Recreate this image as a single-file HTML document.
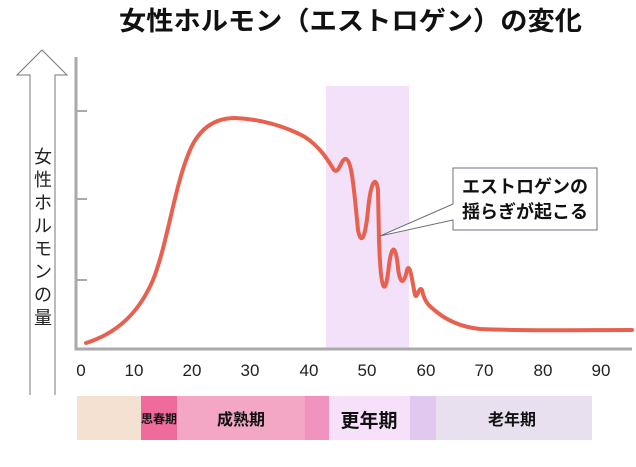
<!DOCTYPE html>
<html><head><meta charset="utf-8"><style>
html,body{margin:0;padding:0;background:#fff;}
svg text{font-family:"Liberation Sans","Noto Sans CJK JP",sans-serif;}
</style></head><body>
<svg width="636" height="462" viewBox="0 0 636 462" xmlns="http://www.w3.org/2000/svg">
<rect width="636" height="462" fill="#fff"/>
<text x="119" y="30" font-size="26" font-weight="bold" fill="#111" textLength="463" lengthAdjust="spacingAndGlyphs">女性ホルモン（エストロゲン）の変化</text>
<path d="M30,395 L30,75 L17,75 L42,50 L67,75 L55,75 L55,395" fill="#fff" stroke="#777" stroke-width="1"/>
<g font-size="18" fill="#222" text-anchor="middle">
<text x="43" y="163">女</text><text x="43" y="186">性</text><text x="43" y="209">ホ</text><text x="43" y="232">ル</text><text x="43" y="255">モ</text><text x="43" y="278">ン</text><text x="43" y="301">の</text><text x="43" y="324">量</text>
</g>
<rect x="326" y="86" width="83" height="262" fill="#f3e1fa"/>
<path d="M76,57 L76,349 L632,349" fill="none" stroke="#aaa" stroke-width="3"/>
<path d="M76,111 L87,111 M76,199 L87,199 M76,280 L87,280" stroke="#aaa" stroke-width="2"/>
<g font-size="17" fill="#222" text-anchor="middle">
<text x="81" y="376">0</text><text x="134" y="376">10</text><text x="192" y="376">20</text><text x="250" y="376">30</text><text x="309" y="376">40</text><text x="367" y="376">50</text><text x="426" y="376">60</text><text x="484" y="376">70</text><text x="543" y="376">80</text><text x="601" y="376">90</text>
</g>
<path d="M86,343 C115,334 138,315 153,280 C167,245 174,190 188,155 C198,128 215,118 235,118 C260,119 285,126 305,137 C320,147 328,160 334,170 C339,175 341,158 346,159 C352,161 354,190 358,230 C361,245 365,240 368,210 C371,180 376,175 378,190 L379,240 C381,300 386,295 389,265 C392,243 396,245 398,268 C400,285 404,285 407,270 C410,262 412,280 415,295 C417,300 419,285 422,290 C424,300 428,305 432,308 C445,320 460,327 480,329 C520,331 580,330 632,330" fill="none" stroke="#e8604e" stroke-width="4" stroke-linecap="round"/>
<path d="M453,168 L597,168 L597,230 L453,230 L453,220 L380,236 L453,204 Z" fill="#fff" stroke="#6a7080" stroke-width="1"/>
<g font-size="18" font-weight="bold" fill="#111" text-anchor="middle">
<text x="525" y="193">エストロゲンの</text>
<text x="525" y="218">揺らぎが起こる</text>
</g>
<rect x="77" y="396" width="64" height="44" fill="#f5e1d2"/>
<rect x="141" y="396" width="36" height="44" fill="#ef6b9b"/>
<rect x="177" y="396" width="128" height="44" fill="#f4a7c4"/>
<rect x="305" y="396" width="24" height="44" fill="#f093bf"/>
<rect x="329" y="396" width="81" height="44" fill="#f6e0fa"/>
<rect x="410" y="396" width="26" height="44" fill="#e0c8ee"/>
<rect x="436" y="396" width="156" height="44" fill="#e8e0ee"/>
<g font-weight="bold" fill="#111" text-anchor="middle">
<text x="159" y="423" font-size="12">思春期</text>
<text x="241" y="425" font-size="16">成熟期</text>
<text x="369" y="427" font-size="19">更年期</text>
<text x="512" y="425" font-size="16">老年期</text>
</g>
</svg>
</body></html>
